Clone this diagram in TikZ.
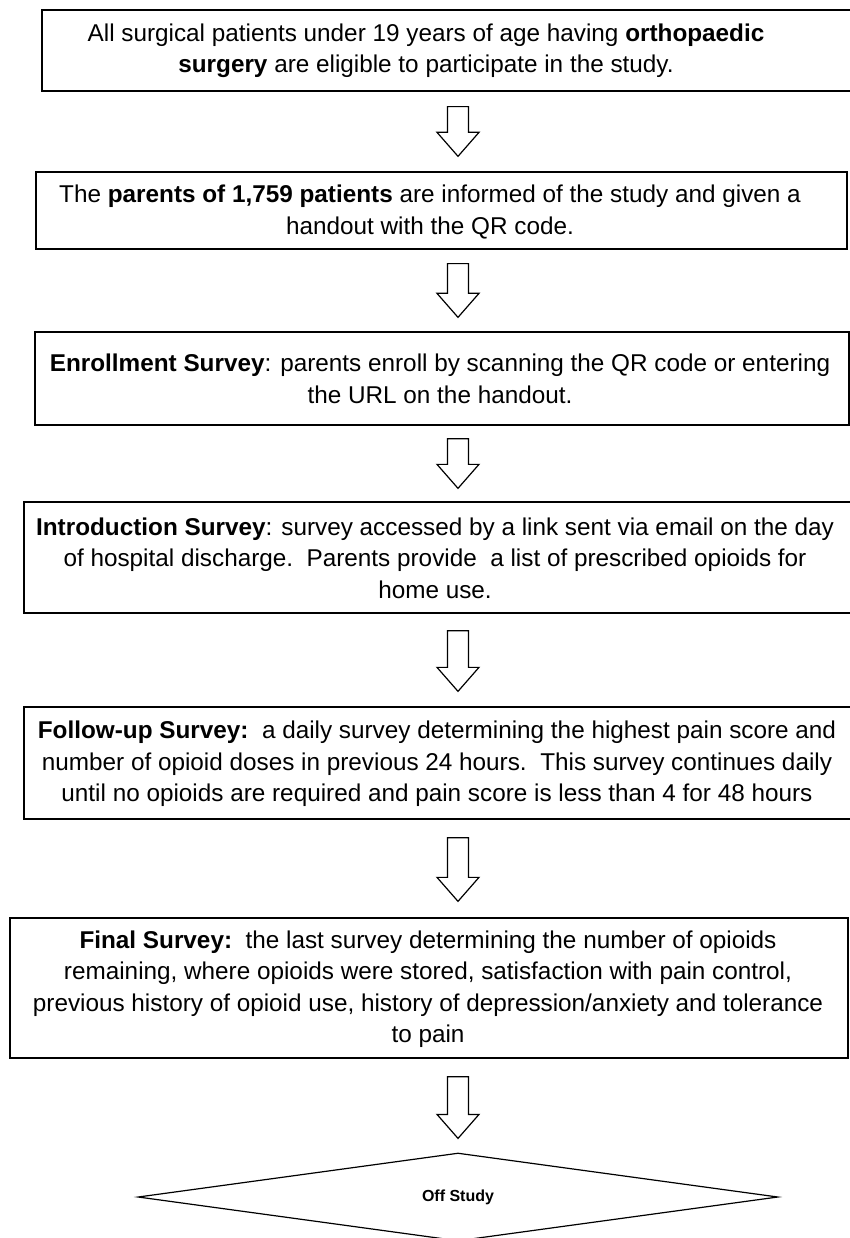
\documentclass[tikz,border=0pt]{standalone}
\usepackage{fontspec}
\setmainfont{Liberation Sans}
\usetikzlibrary{calc,shapes.geometric}
\newcommand\blockarrowbetween[2]{%
  \draw[arrline] ($(#1)+(-10.5,0)$) -- ($(#2)+(-10.5,-24)$) -- ($(#2)+(-21,-24)$) -- (#2)
     -- ($(#2)+(21,-24)$) -- ($(#2)+(10.5,-24)$) -- ($(#1)+(10.5,0)$) -- cycle;}
\begin{document}
\begin{tikzpicture}[x=1pt,y=-1pt,
  boxline/.style={draw=black, line width=1.3pt, inner sep=0pt},
  txt/.style={align=center, font=\fontsize{24.3}{31.5}\selectfont, inner sep=0pt},
  arrline/.style={draw=black, line width=1.2pt, fill=white, line join=miter},
  offst/.style={shape=diamond, draw=black, line width=1.2pt, inner sep=0pt,
     minimum width=640pt, minimum height=88pt, font=\fontsize{16}{19}\selectfont\bfseries}]
\useasboundingbox (0,0) rectangle (850,1238);
\clip (0,0) rectangle (850,1238);
\fill[white] (0,0) rectangle (850,1238);
\coordinate (ax) at (458,0);

% boxes
\node[boxline, minimum width=828pt, minimum height=81pt] (b1) at (456,50.5) {};
\node[boxline, minimum width=811pt, minimum height=77pt] (b2) at (441.5,210.5) {};
\node[boxline, minimum width=814pt, minimum height=93pt] (b3) at (442,378.5) {};
\node[boxline, minimum width=846pt, minimum height=111pt] (b4) at (447,557.5) {};
\node[boxline, minimum width=846pt, minimum height=112pt] (b5) at (447,763) {};
\node[boxline, minimum width=838pt, minimum height=140pt] (b6) at (429,988) {};
\node[offst] (d) at (458,1197) {Off Study};

% texts
\node[txt] (t1) at (426,51) {All surgical patients under 19 years of age having \textbf{orthopaedic}\\ \textbf{surgery} are eligible to participate in the study.};
\node[txt] (t2) at (430,212) {The \textbf{parents of 1,759 patients} are informed of the study and given a\\ handout with the QR code.};
\node[txt] (t3) at (440,379) {\textbf{Enrollment Survey}: parents enroll by scanning the QR code or entering\\ the URL on the handout.};
\node[txt] (t4) at (435,558) {\textbf{Introduction Survey}: survey accessed by a link sent via email on the day\\ of hospital discharge.\ \ Parents provide\ \ a list of prescribed opioids for\\ home use.};
\node[txt] (t5) at (437,764) {\textbf{Follow-up Survey:}\ \ a daily survey determining the highest pain score and\\ number of opioid doses in previous 24 hours.\ \ This survey continues daily\\ until no opioids are required and pain score is less than 4 for 48 hours};
\node[txt] (t6) at (428,989) {\textbf{Final Survey:}\ \ the last survey determining the number of opioids\\ remaining, where opioids were stored, satisfaction with pain control,\\ previous history of opioid use, history of depression/anxiety and tolerance\\ to pain};

% arrows
\coordinate (a1s) at ($(b1.south -| ax)+(0,15)$);
\coordinate (a1e) at ($(b2.north -| ax)+(0,-15)$);
\coordinate (a2s) at ($(b2.south -| ax)+(0,14)$);
\coordinate (a2e) at ($(b3.north -| ax)+(0,-14)$);
\coordinate (a3s) at ($(b3.south -| ax)+(0,13)$);
\coordinate (a3e) at ($(b4.north -| ax)+(0,-13)$);
\coordinate (a4s) at ($(b4.south -| ax)+(0,17)$);
\coordinate (a4e) at ($(b5.north -| ax)+(0,-15)$);
\coordinate (a5s) at ($(b5.south -| ax)+(0,18)$);
\coordinate (a5e) at ($(b6.north -| ax)+(0,-16)$);
\coordinate (a6s) at ($(b6.south -| ax)+(0,18)$);
\coordinate (a6e) at ($(d.north)+(0,-14)$);
\blockarrowbetween{a1s}{a1e}
\blockarrowbetween{a2s}{a2e}
\blockarrowbetween{a3s}{a3e}
\blockarrowbetween{a4s}{a4e}
\blockarrowbetween{a5s}{a5e}
\blockarrowbetween{a6s}{a6e}
\end{tikzpicture}
\end{document}
